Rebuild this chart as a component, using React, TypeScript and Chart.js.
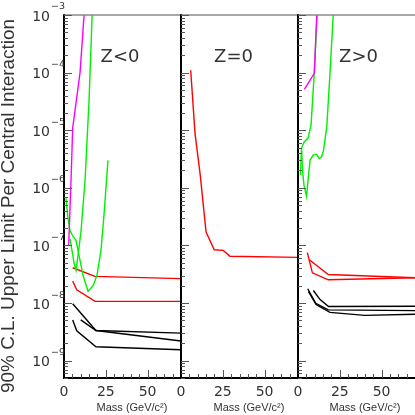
import React, { useEffect, useRef } from "react";
import { Chart, registerables } from "chart.js";

Chart.register(...registerables);

// ---- axis settings ----
const massMin = 0;
const massMax = 70;
const limitMin = 5e-10;
const limitMax = 1e-3;
const massTickLabels = [0, 25, 50];
const massMinorStep = 5;
const decadeExponents = [-3, -4, -5, -6, -7, -8, -9];
const panelLabels = ["Z<0", "Z=0", "Z>0"];
const yTitle = "90% C.L. Upper Limit Per Central Interaction";
const xTitle = "Mass (GeV/c\u00B2)";

// ---- Z<0 panel: [mass, limit] ----
const negMagenta: [number, number][] = [[2.8, 1e-7], [4.2, 1.35e-6], [5.2, 1.1e-5], [9.6, 1e-4], [12.5, 1.6e-3]];
const negGreenA: [number, number][] = [[17.2, 2e-3], [15.0, 3.3e-5], [12.6, 1.35e-6], [10.2, 1.8e-7], [8.4, 6.7e-8], [7.2, 3.7e-8], [6.0, 5.0e-8], [4.8, 8.1e-8], [3.6, 1.3e-7]];
const negGreenB: [number, number][] = [[1.2, 6.6e-7], [2.4, 2.95e-7], [3.6, 1.8e-7], [5.4, 1.44e-7], [7.2, 1.23e-7], [9.0, 6.7e-8], [11.4, 3.0e-8], [14.4, 1.6e-8], [17.4, 2.0e-8], [19.7, 3.0e-8], [22.1, 8.1e-8], [23.9, 3.3e-7], [26.3, 3.0e-6]];
const negRedUpper: [number, number][] = [[5.2, 4.1e-8], [18.5, 2.9e-8], [70, 2.65e-8]];
const negRedLower: [number, number][] = [[5.2, 2.4e-8], [7.6, 1.7e-8], [18.6, 1.07e-8], [70, 1.07e-8]];
const negBlackA: [number, number][] = [[5.2, 9.7e-9], [19.1, 3.33e-9], [70, 3.0e-9]];
const negBlackB: [number, number][] = [[10, 5.1e-9], [19.1, 3.33e-9], [70, 2.2e-9]];
const negBlackC: [number, number][] = [[5.2, 5.1e-9], [7.6, 3.3e-9], [19.1, 1.74e-9], [70, 1.55e-9]];

// ---- Z=0 panel ----
const zeroRed: [number, number][] = [[5.8, 1.1e-4], [8.4, 8.7e-6], [11.4, 1.78e-6], [15.0, 1.7e-7], [19.9, 8.4e-8], [25.3, 8.2e-8], [29.3, 6.5e-8], [70, 6.2e-8]];

// ---- Z>0 panel ----
const posMagenta: [number, number][] = [[3.8, 5.1e-5], [9.75, 9.7e-5], [11.4, 1.3e-3]];
const posGreenA: [number, number][] = [[11.6, 1.3e-3], [9.75, 9.8e-5], [7.8, 1.22e-5], [6.0, 7.3e-6], [3.6, 6.2e-6], [2.1, 4.9e-6], [1.5, 1.66e-6]];
const posGreenB: [number, number][] = [[21.3, 1.3e-3], [19.15, 9.8e-5], [17.2, 1.13e-5], [15.3, 4.5e-6], [14.1, 3.46e-6], [12.7, 3.2e-6], [11.2, 3.8e-6], [9.0, 3.7e-6], [7.2, 3.0e-6], [6.3, 1.66e-6], [5.1, 7.1e-7], [3.6, 1.1e-6], [2.7, 2.0e-6], [2.2, 4.5e-6]];
const posRedA: [number, number][] = [[5.6, 7.5e-8], [8.6, 3.35e-8], [18.1, 2.53e-8], [70, 2.75e-8]];
const posRedB: [number, number][] = [[7.0, 5.6e-8], [18.1, 3.13e-8], [70, 2.75e-8]];
const posBlackA: [number, number][] = [[9.2, 1.65e-8], [13.2, 1.15e-8], [18.3, 8.7e-9], [70, 8.8e-9]];
const posBlackB: [number, number][] = [[5.8, 1.77e-8], [10.6, 9.9e-9], [18.1, 7.6e-9], [70, 7.4e-9]];
const posBlackC: [number, number][] = [[6.3, 1.58e-8], [10.8, 9.4e-9], [19.1, 6.9e-9], [40, 6.1e-9], [70, 6.4e-9]];

const MAGENTA = "#ff00ff";
const GREEN = "#00f000";
const RED = "#ff0000";
const BLACK = "#000000";

const panelCurves: { pts: [number, number][]; color: string }[][] = [
  [
    { pts: negMagenta, color: MAGENTA },
    { pts: negGreenA, color: GREEN },
    { pts: negGreenB, color: GREEN },
    { pts: negRedUpper, color: RED },
    { pts: negRedLower, color: RED },
    { pts: negBlackA, color: BLACK },
    { pts: negBlackB, color: BLACK },
    { pts: negBlackC, color: BLACK },
  ],
  [{ pts: zeroRed, color: RED }],
  [
    { pts: posMagenta, color: MAGENTA },
    { pts: posGreenA, color: GREEN },
    { pts: posGreenB, color: GREEN },
    { pts: posRedA, color: RED },
    { pts: posRedB, color: RED },
    { pts: posBlackA, color: BLACK },
    { pts: posBlackB, color: BLACK },
    { pts: posBlackC, color: BLACK },
  ],
];

// layout of the three canvases (left, width, padLeft, padRight) and label offsets
const layouts = [
  { left: 0, width: 190, padLeft: 64, padRight: 9, labelDx: 56, titleDx: 68 },
  { left: 171, width: 146, padLeft: 10, padRight: 19, labelDx: 52.5, titleDx: 68 },
  { left: 288, width: 127, padLeft: 10, padRight: 0, labelDx: 60.5, titleDx: 67 },
];

const TEXT = "#333333";

function makePlugin(index: number) {
  return {
    id: "frame" + index,
    afterDraw(chart: any) {
      const { ctx, chartArea: a } = chart;
      const xs = chart.scales.x;
      const ys = chart.scales.y;
      const line = (x1: number, y1: number, x2: number, y2: number) => {
        ctx.beginPath();
        ctx.moveTo(x1, y1);
        ctx.lineTo(x2, y2);
        ctx.stroke();
      };
      ctx.save();
      // top border
      ctx.strokeStyle = "#8a8a8a";
      ctx.lineWidth = 1.5;
      line(a.left, a.top, a.right, a.top);
      // left + bottom border
      ctx.strokeStyle = "#000";
      ctx.lineWidth = 2;
      line(a.left, a.top - 0.75, a.left, a.bottom + 1);
      line(a.left, a.bottom, a.right, a.bottom);
      // y ticks
      ctx.lineWidth = 1;
      ctx.strokeStyle = "#555";
      for (let e = -10; e <= -3; e++) {
        for (let k = 1; k <= 9; k++) {
          const v = Number(`${k}e${e}`);
          if (v < limitMin || v > limitMax) continue;
          const py = Math.round(ys.getPixelForValue(v)) + 0.5;
          const len = k === 1 ? 8 : 4;
          line(a.left, py, a.left + len, py);
        }
      }
      // x ticks
      for (let m = massMin + massMinorStep; m < massMax; m += massMinorStep) {
        const px = Math.round(xs.getPixelForValue(m)) + 0.5;
        const len = massTickLabels.includes(m) ? 8 : 4;
        line(px, a.bottom, px, a.bottom - len);
      }
      // x tick labels
      ctx.fillStyle = TEXT;
      ctx.font = '14px "DejaVu Sans"';
      ctx.textAlign = "center";
      ctx.textBaseline = "middle";
      for (const m of massTickLabels) {
        ctx.fillText(String(m), xs.getPixelForValue(m), a.bottom + 14);
      }
      // x title
      ctx.font = '11px "Liberation Sans"';
      ctx.fillText(xTitle, a.left + layouts[index].titleDx, a.bottom + 30);
      // panel label
      ctx.font = '18px "DejaVu Sans"';
      ctx.fillText(panelLabels[index], a.left + layouts[index].labelDx, 57.5);

      if (index === 0) {
        // y tick labels
        for (const e of decadeExponents) {
          const py = ys.getPixelForValue(Number(`1e${e}`));
          ctx.font = '14px "DejaVu Sans"';
          ctx.textAlign = "right";
          ctx.fillText("10", a.left - 14, py + 2);
          ctx.font = '9.5px "DejaVu Sans"';
          ctx.textAlign = "left";
          ctx.fillText("\u2212" + String(-e), a.left - 13, py - 8);
        }
        // y title
        ctx.save();
        let fs = 14;
        ctx.font = `${fs}px "Liberation Sans"`;
        const w = ctx.measureText(yTitle).width;
        fs = (fs * 374) / w;
        ctx.font = `${fs}px "Liberation Sans"`;
        ctx.translate(9, 206);
        ctx.rotate(-Math.PI / 2);
        ctx.textAlign = "center";
        ctx.textBaseline = "middle";
        ctx.fillText(yTitle, 0, 0);
        ctx.restore();
      }
      ctx.restore();
    },
  };
}

function Panel({ index }: { index: number }) {
  const ref = useRef<HTMLCanvasElement | null>(null);
  const lay = layouts[index];
  useEffect(() => {
    if (!ref.current) return;
    const chart = new Chart(ref.current, {
      type: "line",
      data: {
        datasets: panelCurves[index].map((c) => ({
          data: c.pts.map(([x, y]) => ({ x, y })),
          borderColor: c.color,
          borderWidth: 1.4,
          pointRadius: 0,
          fill: false,
          tension: 0,
          clip: 0,
        })),
      },
      options: {
        animation: false,
        responsive: false,
        maintainAspectRatio: false,
        devicePixelRatio: 1,
        events: [],
        layout: { padding: { left: lay.padLeft, right: lay.padRight, top: 15, bottom: 37 } },
        plugins: { legend: { display: false }, title: { display: false }, tooltip: { enabled: false } },
        scales: {
          x: { type: "linear", min: massMin, max: massMax, display: false },
          y: { type: "logarithmic", min: limitMin, max: limitMax, display: false },
        },
      },
      plugins: [makePlugin(index)],
    } as any);
    return () => chart.destroy();
  }, [index]);
  return (
    <canvas
      ref={ref}
      width={lay.width}
      height={415}
      style={{ position: "absolute", left: lay.left, top: 0, width: lay.width, height: 415 }}
    />
  );
}

export default function App() {
  return (
    <div style={{ position: "absolute", left: 0, top: 0, width: 415, height: 415, background: "#fff", overflow: "hidden" }}>
      <Panel index={0} />
      <Panel index={1} />
      <Panel index={2} />
    </div>
  );
}
